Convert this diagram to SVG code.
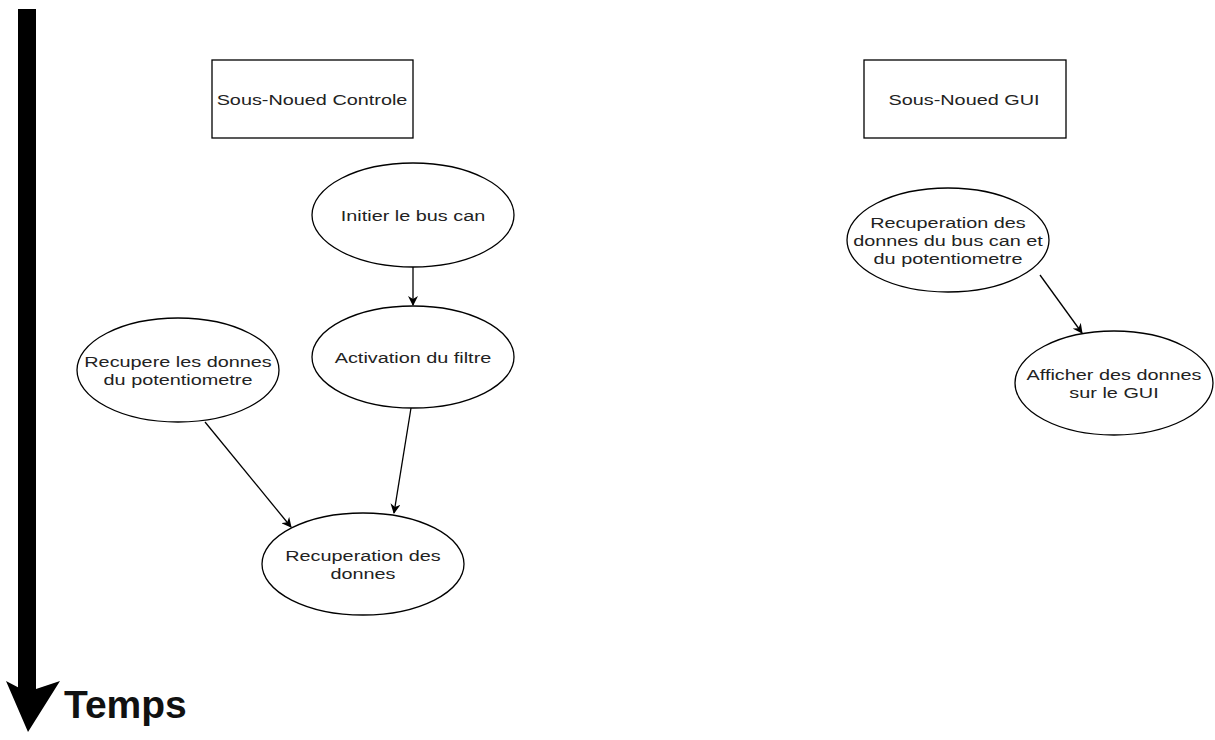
<svg xmlns="http://www.w3.org/2000/svg" width="1215" height="740" viewBox="0 0 1215 740">
<defs>
<style>
.box{fill:#fff;stroke:#000;stroke-width:1.3}
.ell{fill:#fff;stroke:#000;stroke-width:1.3}
.lbl{font-family:"Liberation Sans",Arial,sans-serif;font-size:15.5px;fill:#222;text-anchor:middle;dominant-baseline:central}
.edge{fill:none;stroke:#000;stroke-width:1.3;marker-end:url(#arr)}
</style>
<marker id="arr" viewBox="0 0 10 10" refX="9" refY="5" markerWidth="10" markerHeight="10" markerUnits="userSpaceOnUse" orient="auto">
<path d="M0,0 L10,5 L0,10 L3,5 Z" fill="#000"/>
</marker>
</defs>
<rect width="1215" height="740" fill="#fff"/>
<g id="time-axis">
<rect x="18" y="9" width="18" height="684" fill="#000"/>
<polygon points="6,681 27,692 60,681 28,732" fill="#000"/>
<text x="64" y="718" style="font-family:'Liberation Sans',Arial,sans-serif;font-size:39px;font-weight:bold;fill:#111">Temps</text>
</g>
<g id="connectors">
<path class="edge" d="M413,267 L413,305"/>
<path class="edge" d="M205,422 L291,527"/>
<path class="edge" d="M411,408 L394,513"/>
<path class="edge" d="M1040,275 L1082,333"/>
</g>
<g id="box-controle">
<rect class="box" x="212" y="60" width="201" height="78"/>
<text class="lbl" transform="translate(312 100) scale(1.28 1)">Sous-Noued Controle</text>
</g>
<g id="box-gui">
<rect class="box" x="864" y="60" width="202" height="78"/>
<text class="lbl" transform="translate(964 100) scale(1.28 1)">Sous-Noued GUI</text>
</g>
<g id="n-initier">
<ellipse class="ell" cx="413" cy="215" rx="101" ry="52"/>
<text class="lbl" transform="translate(413 216) scale(1.28 1)">Initier le bus can</text>
</g>
<g id="n-activation">
<ellipse class="ell" cx="413" cy="357" rx="101" ry="51"/>
<text class="lbl" transform="translate(413 358) scale(1.28 1)">Activation du filtre</text>
</g>
<g id="n-recupere">
<ellipse class="ell" cx="178" cy="370" rx="101" ry="52"/>
<text class="lbl" transform="translate(178 362) scale(1.28 1)">Recupere les donnes</text>
<text class="lbl" transform="translate(178 380) scale(1.28 1)">du potentiometre</text>
</g>
<g id="n-recuperation">
<ellipse class="ell" cx="363" cy="564" rx="101" ry="51"/>
<text class="lbl" transform="translate(363 556) scale(1.28 1)">Recuperation des</text>
<text class="lbl" transform="translate(363 574) scale(1.28 1)">donnes</text>
</g>
<g id="n-gui-recup">
<ellipse class="ell" cx="948" cy="240" rx="101" ry="52"/>
<text class="lbl" transform="translate(948 223) scale(1.28 1)">Recuperation des</text>
<text class="lbl" transform="translate(948 241) scale(1.28 1)">donnes du bus can et</text>
<text class="lbl" transform="translate(948 259) scale(1.28 1)">du potentiometre</text>
</g>
<g id="n-afficher">
<ellipse class="ell" cx="1114" cy="383" rx="99" ry="52"/>
<text class="lbl" transform="translate(1114 375) scale(1.28 1)">Afficher des donnes</text>
<text class="lbl" transform="translate(1114 393) scale(1.28 1)">sur le GUI</text>
</g>
</svg>
